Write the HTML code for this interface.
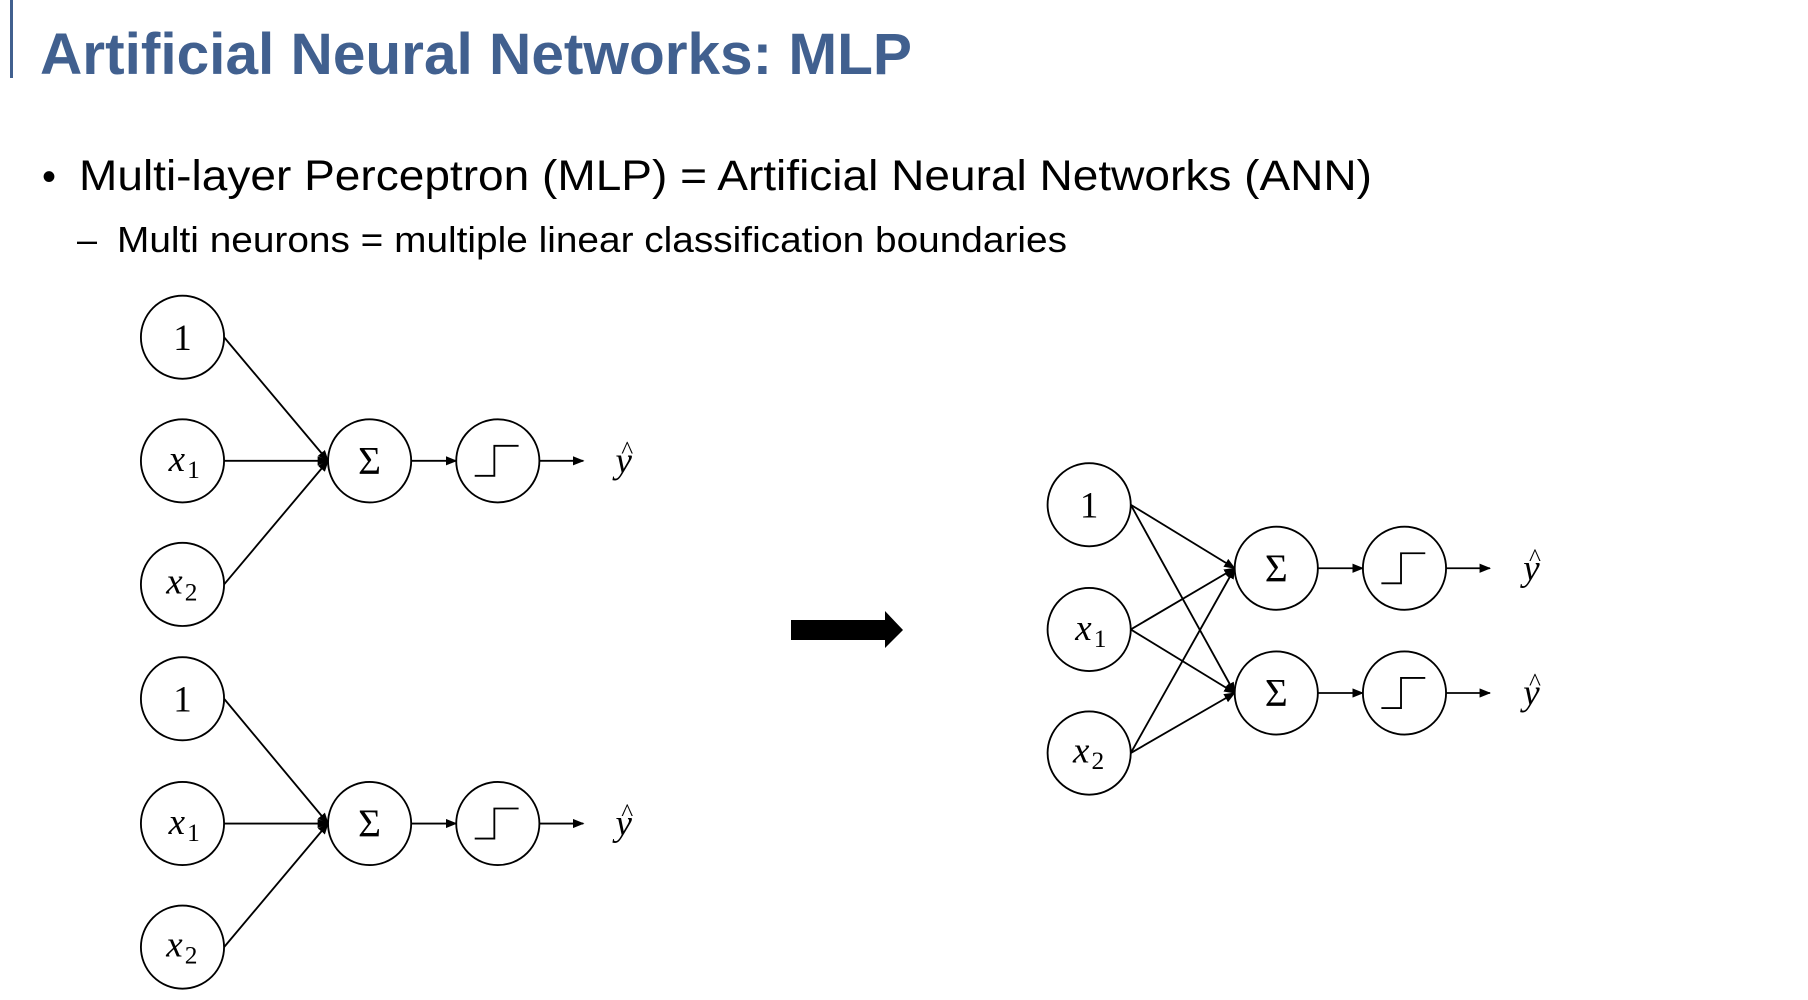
<!DOCTYPE html>
<html><head><meta charset="utf-8"><style>
html,body{margin:0;padding:0;background:#fff;width:1808px;height:1000px;overflow:hidden}
svg{display:block}
.m{font-family:"Liberation Serif",serif;font-style:italic}
.r{font-family:"Liberation Serif",serif}
</style></head><body>
<svg width="1808" height="1000" viewBox="0 0 1808 1000" xmlns="http://www.w3.org/2000/svg">
<defs>
<marker id="a" markerWidth="10" markerHeight="8" refX="9" refY="4" orient="auto" markerUnits="userSpaceOnUse">
<path d="M0,0 L10,4 L0,8 z" fill="#000"/></marker>
</defs>
<rect x="10" y="0" width="3" height="78" fill="#41608F"/>
<text x="40" y="74" font-family="Liberation Sans, sans-serif" font-weight="bold" font-size="58" fill="#41608F" textLength="872" lengthAdjust="spacingAndGlyphs">Artificial Neural Networks: MLP</text>
<text x="42" y="190" font-family="Liberation Sans, sans-serif" font-size="40" fill="#000">•</text>
<text x="79" y="190" font-family="Liberation Sans, sans-serif" font-size="43" fill="#000" textLength="1293" lengthAdjust="spacingAndGlyphs">Multi-layer Perceptron (MLP) = Artificial Neural Networks (ANN)</text>
<text x="77" y="252" font-family="Liberation Sans, sans-serif" font-size="36" fill="#000">–</text>
<text x="117" y="252" font-family="Liberation Sans, sans-serif" font-size="36" fill="#000" textLength="950" lengthAdjust="spacingAndGlyphs">Multi neurons = multiple linear classification boundaries</text>

<polygon points="791,620 885,620 885,611 903,630 885,648 885,640 791,640" fill="#000"/>

<g transform="scale(1.155)" stroke="#000" stroke-width="1.6" fill="none">
<circle cx="158" cy="292" r="36"/><circle cx="158" cy="399" r="36"/><circle cx="158" cy="506" r="36"/>
<circle cx="320" cy="399" r="36"/><circle cx="431" cy="399" r="36"/>
<line x1="194" y1="292" x2="284" y2="399" marker-end="url(#a)"/>
<line x1="194" y1="399" x2="284" y2="399" marker-end="url(#a)"/>
<line x1="194" y1="506" x2="284" y2="399" marker-end="url(#a)"/>
<line x1="356" y1="399" x2="395" y2="399" marker-end="url(#a)"/>
<line x1="467" y1="399" x2="505" y2="399" marker-end="url(#a)"/>
<path d="M411,412 H428 V386 H449"/>
<circle cx="158" cy="605" r="36"/><circle cx="158" cy="713" r="36"/><circle cx="158" cy="820" r="36"/>
<circle cx="320" cy="713" r="36"/><circle cx="431" cy="713" r="36"/>
<line x1="194" y1="605" x2="284" y2="713" marker-end="url(#a)"/>
<line x1="194" y1="713" x2="284" y2="713" marker-end="url(#a)"/>
<line x1="194" y1="820" x2="284" y2="713" marker-end="url(#a)"/>
<line x1="356" y1="713" x2="395" y2="713" marker-end="url(#a)"/>
<line x1="467" y1="713" x2="505" y2="713" marker-end="url(#a)"/>
<path d="M411,726 H428 V700 H449"/>
<circle cx="943" cy="437" r="36"/><circle cx="943" cy="545" r="36"/><circle cx="943" cy="652" r="36"/>
<circle cx="1105" cy="492" r="36"/><circle cx="1105" cy="600" r="36"/>
<circle cx="1216" cy="492" r="36"/><circle cx="1216" cy="600" r="36"/>
<line x1="979" y1="437" x2="1069" y2="492" marker-end="url(#a)"/>
<line x1="979" y1="437" x2="1069" y2="600" marker-end="url(#a)"/>
<line x1="979" y1="545" x2="1069" y2="492" marker-end="url(#a)"/>
<line x1="979" y1="545" x2="1069" y2="600" marker-end="url(#a)"/>
<line x1="979" y1="652" x2="1069" y2="492" marker-end="url(#a)"/>
<line x1="979" y1="652" x2="1069" y2="600" marker-end="url(#a)"/>
<line x1="1141" y1="492" x2="1180" y2="492" marker-end="url(#a)"/>
<line x1="1141" y1="600" x2="1180" y2="600" marker-end="url(#a)"/>
<line x1="1252" y1="492" x2="1290" y2="492" marker-end="url(#a)"/>
<line x1="1252" y1="600" x2="1290" y2="600" marker-end="url(#a)"/>
<path d="M1196,505 H1213 V479 H1234"/>
<path d="M1196,613 H1213 V587 H1234"/>
</g>
<g transform="scale(1.155)" fill="#000" stroke="none" font-size="32">
<text class="r" x="158" y="303" text-anchor="middle">1</text>
<text class="m" x="146" y="408">x</text><text class="r" x="162" y="414" font-size="22">1</text>
<text class="m" x="144" y="514">x</text><text class="r" x="160" y="520" font-size="22">2</text>
<text class="r" x="320" y="410" text-anchor="middle" font-size="34">Σ</text>
<text class="m" x="540" y="409" text-anchor="middle">y</text><text class="r" x="543" y="397" text-anchor="middle" font-size="22">^</text>

<text class="r" x="158" y="616" text-anchor="middle">1</text>
<text class="m" x="146" y="722">x</text><text class="r" x="162" y="728" font-size="22">1</text>
<text class="m" x="144" y="828">x</text><text class="r" x="160" y="834" font-size="22">2</text>
<text class="r" x="320" y="724" text-anchor="middle" font-size="34">Σ</text>
<text class="m" x="540" y="723" text-anchor="middle">y</text><text class="r" x="543" y="711" text-anchor="middle" font-size="22">^</text>

<text class="r" x="943" y="448" text-anchor="middle">1</text>
<text class="m" x="931" y="554">x</text><text class="r" x="947" y="560" font-size="22">1</text>
<text class="m" x="929" y="660">x</text><text class="r" x="945" y="666" font-size="22">2</text>
<text class="r" x="1105" y="503" text-anchor="middle" font-size="34">Σ</text>
<text class="r" x="1105" y="611" text-anchor="middle" font-size="34">Σ</text>
<text class="m" x="1326" y="502" text-anchor="middle">y</text><text class="r" x="1329" y="490" text-anchor="middle" font-size="22">^</text>
<text class="m" x="1326" y="610" text-anchor="middle">y</text><text class="r" x="1329" y="598" text-anchor="middle" font-size="22">^</text>
</g>
</svg>
</body></html>
